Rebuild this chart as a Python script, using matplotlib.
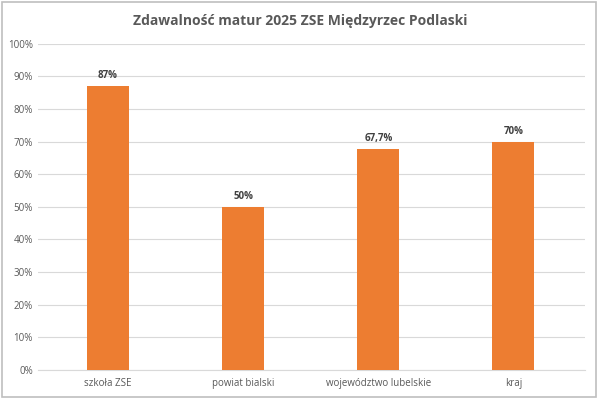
import matplotlib.pyplot as plt
from matplotlib.patches import Rectangle

# dane z wykresu
kategorie = ['szkoła ZSE', 'powiat bialski', 'województwo lubelskie', 'kraj']
zdawalnosc = [87, 50, 67.7, 70]
etykiety = ['87%', '50%', '67,7%', '70%']
y_ticks = list(range(0, 101, 10))

plt.rcParams['font.family'] = ['Open Sans', 'DejaVu Sans']

fig = plt.figure(figsize=(6, 3.99), dpi=100)
ax = fig.add_axes([0.063, 0.073, 0.912, 0.817])

x = range(len(kategorie))
bars = ax.bar(x, zdawalnosc, width=0.31, color='#ED7D31', zorder=3)

for b, lab in zip(bars, etykiety):
    ax.text(b.get_x() + b.get_width() / 2, b.get_height() + 1.5, lab,
            ha='center', va='bottom', fontsize=7, fontweight='bold', color='#404040')

ax.set_ylim(0, 100)
ax.set_xlim(-0.52, 3.53)
ax.set_yticks(y_ticks)
ax.set_yticklabels([f'{t}%' for t in y_ticks])
ax.set_xticks(list(x))
ax.set_xticklabels(kategorie)
ax.tick_params(axis='both', length=0, labelsize=7, colors='#595959')
ax.tick_params(axis='x', pad=6)
ax.grid(axis='y', color='#D9D9D9', linewidth=0.8, zorder=0)
for s in ['top', 'right', 'left']:
    ax.spines[s].set_visible(False)
ax.spines['bottom'].set_color('#D9D9D9')

fig.suptitle('Zdawalność matur 2025 ZSE Międzyrzec Podlaski', x=0.5, y=0.965,
             fontsize=10, fontweight='bold', color='#595959')

# ramka dookoła
fig.patches.append(Rectangle((0.004, 0.006), 0.99, 0.988, transform=fig.transFigure,
                             fill=False, edgecolor='#BFBFBF', linewidth=1.2))

fig.savefig('out.png', dpi=100)
